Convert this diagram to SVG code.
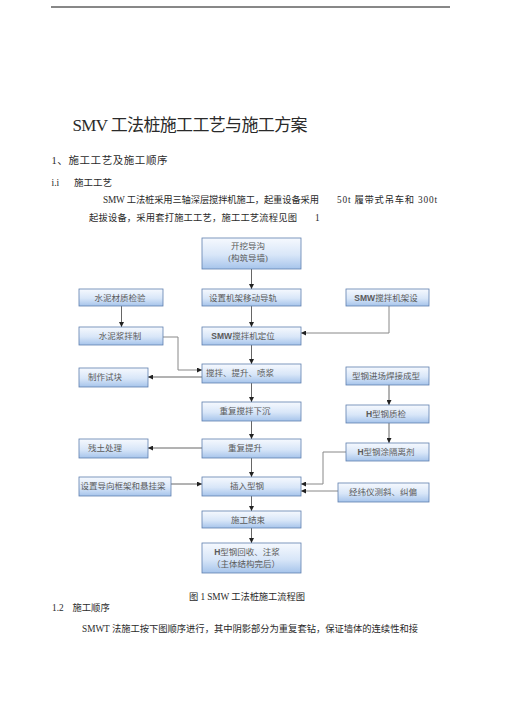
<svg xmlns="http://www.w3.org/2000/svg" width="505" height="714" viewBox="0 0 505 714">
<defs>
<linearGradient id="g" x1="0" y1="0" x2="0" y2="1">
<stop offset="0" stop-color="#f6f9fe"/>
<stop offset="0.55" stop-color="#d8e6f8"/>
<stop offset="1" stop-color="#a6c4eb"/>
</linearGradient>
<marker id="a" viewBox="0 0 10 10" refX="10" refY="5" markerWidth="5" markerHeight="5" orient="auto" markerUnits="userSpaceOnUse">
<path d="M0,0 L10,5 L0,10 z" fill="#222"/>
</marker>
<style>
.b{fill:url(#g);stroke:#5f7fae;stroke-width:0.8}
.t{font-family:"Liberation Serif","Noto Sans CJK SC",serif;font-size:8.5px;fill:#5a5a5a;text-anchor:middle}
.s{font-family:"Liberation Sans","Noto Sans CJK SC",sans-serif;font-weight:bold}
.p{font-family:"Liberation Serif","Noto Sans CJK SC",serif;fill:#2a2a2a}
.c{fill:none;stroke:#555;stroke-width:0.9;marker-end:url(#a)}
.c2{fill:none;stroke:#888;stroke-width:1;marker-end:url(#a)}
</style>
</defs>
<rect width="505" height="714" fill="#fff"/>
<line x1="51" y1="7" x2="450" y2="7" stroke="#111" stroke-width="1"/>

<text class="p" x="72.5" y="131" font-size="17" textLength="235" lengthAdjust="spacing">SMV 工法桩施工工艺与施工方案</text>
<text class="p" x="51.5" y="164" font-size="10.5" textLength="116" lengthAdjust="spacing">1、施工工艺及施工顺序</text>
<text class="p" x="51.5" y="186" font-size="9.5">i.i</text>
<text class="p" x="74" y="186" font-size="9.5">施工工艺</text>
<text class="p" x="103" y="203" font-size="9.3" textLength="216" lengthAdjust="spacing">SMW 工法桩采用三轴深层搅拌机施工，起重设备采用</text>
<text class="p" x="337" y="203" font-size="9.3" textLength="100" lengthAdjust="spacing">50t 履带式吊车和 300t</text>
<text class="p" x="89" y="221" font-size="9.3" textLength="208" lengthAdjust="spacing">起拔设备，采用套打施工工艺，施工工艺流程见图</text>
<text class="p" x="315" y="221" font-size="9.3">1</text>

<g id="connectors">
<path class="c" d="M251.5,269 V289"/>
<path class="c" d="M251.5,306 V327"/>
<path class="c2" d="M389,306 V333 H301"/>
<path class="c" d="M121.5,306 V327"/>
<path class="c2" d="M163,337 H178 V370 H202"/>
<path class="c" d="M251.5,345 V364"/>
<path class="c" d="M202,377 H148"/>
<path class="c" d="M251.5,383 V402"/>
<path class="c" d="M389,385 V405"/>
<path class="c" d="M251.5,421 V439"/>
<path class="c" d="M389,423 V443"/>
<path class="c" d="M202,448 H148"/>
<path class="c" d="M251.5,458 V477"/>
<path class="c2" d="M346,452 H323 V484 H301"/>
<path class="c" d="M171,484 H202"/>
<path class="c2" d="M338,491 H301" stroke-width="1.4"/>
<path class="c" d="M251.5,496 V511"/>
<path class="c" d="M251.5,528 V543"/>
</g>

<g id="n1"><rect class="b" x="202" y="238" width="99" height="31"/><text class="t" x="248" y="249">开挖导沟</text><text class="t" x="248" y="261">(构筑导墙)</text></g>
<g id="n2"><rect class="b" x="79" y="289" width="84" height="17"/><text class="t" x="120" y="300.5">水泥材质检验</text></g>
<g id="n3"><rect class="b" x="202" y="289" width="99" height="17"/><text class="t" x="243" y="300.5">设置机架移动导轨</text></g>
<g id="n4"><rect class="b" x="346" y="289" width="83" height="17"/><text class="t" x="386" y="300.5"><tspan class="s">SMW</tspan>搅拌机架设</text></g>
<g id="n5"><rect class="b" x="79" y="327" width="84" height="18"/><text class="t" x="120" y="339">水泥浆拌制</text></g>
<g id="n6"><rect class="b" x="202" y="327" width="99" height="18"/><text class="t" x="243" y="339"><tspan class="s">SMW</tspan>搅拌机定位</text></g>
<g id="n7"><rect class="b" x="202" y="364" width="99" height="19"/><text class="t" x="240" y="375.5">搅拌、提升、喷浆</text></g>
<g id="n8"><rect class="b" x="79" y="368" width="69" height="19"/><text class="t" x="105" y="380">制作试块</text></g>
<g id="n9"><rect class="b" x="346" y="367" width="83" height="18"/><text class="t" x="386" y="378.5">型钢进场焊接成型</text></g>
<g id="n10"><rect class="b" x="202" y="402" width="99" height="19"/><text class="t" x="245" y="414">重复搅拌下沉</text></g>
<g id="n11"><rect class="b" x="346" y="405" width="83" height="18"/><text class="t" x="386" y="416.5"><tspan class="s">H</tspan>型钢质检</text></g>
<g id="n12"><rect class="b" x="202" y="439" width="99" height="19"/><text class="t" x="245" y="451">重复提升</text></g>
<g id="n13"><rect class="b" x="79" y="439" width="69" height="19"/><text class="t" x="105" y="451">残土处理</text></g>
<g id="n14"><rect class="b" x="346" y="443" width="83" height="18"/><text class="t" x="386" y="454.5"><tspan class="s">H</tspan>型钢涂隔离剂</text></g>
<g id="n15"><rect class="b" x="79" y="477" width="92" height="19"/><text class="t" x="123" y="488.5">设置导向框架和悬挂梁</text></g>
<g id="n16"><rect class="b" x="202" y="477" width="99" height="19"/><text class="t" x="247" y="488.5">插入型钢</text></g>
<g id="n17"><rect class="b" x="338" y="483" width="91" height="19"/><text class="t" x="383" y="494.5">经纬仪测斜、纠偏</text></g>
<g id="n18"><rect class="b" x="202" y="511" width="99" height="17"/><text class="t" x="248" y="522.5">施工结束</text></g>
<g id="n19"><rect class="b" x="202" y="543" width="99" height="30"/><text class="t" x="247" y="555"><tspan class="s">H</tspan>型钢回收、注浆</text><text class="t" x="246" y="567">（主体结构完后）</text></g>

<text class="p" x="189" y="600" font-size="9.3" textLength="116" lengthAdjust="spacing">图 1 SMW 工法桩施工流程图</text>
<text class="p" x="52" y="611" font-size="9.3">1.2</text>
<text class="p" x="72.5" y="611" font-size="9.3">施工顺序</text>
<text class="p" x="82" y="632" font-size="9.3" textLength="336" lengthAdjust="spacing">SMWT 法施工按下图顺序进行，其中阴影部分为重复套钻，保证墙体的连续性和接</text>
</svg>
